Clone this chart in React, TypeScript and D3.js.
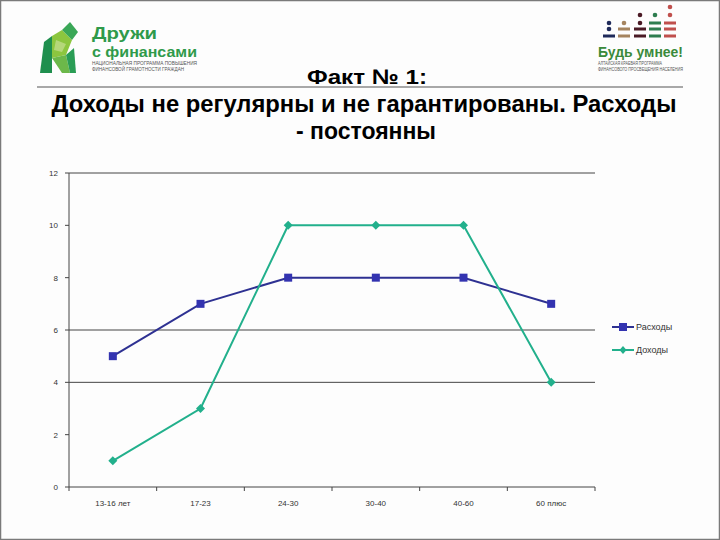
import React from "react";
import * as d3 from "d3";

const categories = ["13-16 лет", "17-23", "24-30", "30-40", "40-60", "60 плюс"];
const expenses = [5, 7, 8, 8, 8, 7];
const incomes = [1, 3, 10, 10, 10, 4];
const yTicks = [0, 2, 4, 6, 8, 10, 12];
const gridValues = [12, 6, 4];
const seriesNames = ["Расходы", "Доходы"];

const W = 720, H = 540;
const plot = { left: 69, right: 595, top: 173, bottom: 487 };
const C_EXP = "#2e3192";
const C_EXP_M = "#3333b0";
const C_INC = "#22b08c";

export default function App() {
  const x = d3.scaleBand<string>().domain(categories).range([plot.left, plot.right]);
  const y = d3.scaleLinear().domain([0, 12]).range([plot.bottom, plot.top]);
  const cx = (c: string) => (x(c) as number) + x.bandwidth() / 2;
  const line = d3.line<[number, number]>().x(d => d[0]).y(d => d[1]);
  const expPts = categories.map((c, i) => [cx(c), y(expenses[i])] as [number, number]);
  const incPts = categories.map((c, i) => [cx(c), y(incomes[i])] as [number, number]);
  const font = "'Liberation Sans', Arial, sans-serif";
  const tickEdges = [...categories.map(c => x(c) as number), plot.right];

  const dotCols = [
    { x: 609, color: "#1f2a5a", dots: [23, 29], dashes: [36] },
    { x: 624, color: "#a5845f", dots: [23], dashes: [29, 36] },
    { x: 640, color: "#4a1a25", dots: [15, 23], dashes: [29, 36] },
    { x: 655, color: "#2e7d4f", dots: [15], dashes: [23, 29, 36] },
    { x: 670, color: "#c0504d", dots: [7, 15], dashes: [23, 29, 36] },
  ];

  return (
    <svg width={W} height={H} style={{ position: "absolute", left: 0, top: 0, background: "#fff" }}>
      <rect x={0.5} y={0.5} width={W - 1} height={H - 1} fill="#fdfdfd" stroke="#7a7a7a" strokeWidth={1.5} />
      {/* left logo */}
      <g>
        <polygon points="44,42 52,36 52,73 40,73" fill="#1f8f4e" />
        <polygon points="52,36 62,30 72,40 66,55 52,58" fill="#8cc63f" />
        <polygon points="62,30 70,22 78,32 72,40" fill="#3aa757" />
        <polygon points="52,58 66,55 70,73 62,73" fill="#6cb84a" />
        <polygon points="66,55 74,48 76,73 70,73" fill="#2a9d55" />
        <polygon points="56,40 66,44 62,52 54,50" fill="#b5d77a" />
        <text x={92} y={39} fontFamily={font} fontWeight="bold" fontSize={16} fill="#2f9a4a" textLength={65} lengthAdjust="spacingAndGlyphs">Дружи</text>
        <text x={92} y={57} fontFamily={font} fontWeight="bold" fontSize={15} fill="#2f9a4a" textLength={105} lengthAdjust="spacingAndGlyphs">с финансами</text>
        <text x={92} y={65} fontFamily={font} fontSize={4.5} fill="#555" textLength={105} lengthAdjust="spacingAndGlyphs">НАЦИОНАЛЬНАЯ ПРОГРАММА ПОВЫШЕНИЯ</text>
        <text x={92} y={71} fontFamily={font} fontSize={4.5} fill="#555" textLength={92} lengthAdjust="spacingAndGlyphs">ФИНАНСОВОЙ ГРАМОТНОСТИ ГРАЖДАН</text>
      </g>
      {/* right logo */}
      <g>
        {dotCols.map((col, i) => (
          <g key={i}>
            {col.dots.map((dy, j) => <circle key={"d" + j} cx={col.x} cy={dy} r={2.3} fill={col.color} />)}
            {col.dashes.map((dy, j) => <rect key={"r" + j} x={col.x - 6} y={dy - 1.5} width={12} height={3} fill={col.color} />)}
          </g>
        ))}
        <text x={598} y={57} fontFamily={font} fontWeight="bold" fontSize={15} fill="#3a8a3a" textLength={85} lengthAdjust="spacingAndGlyphs">Будь умнее!</text>
        <text x={598} y={65} fontFamily={font} fontSize={4.5} fill="#555" textLength={64} lengthAdjust="spacingAndGlyphs">АЛТАЙСКАЯ КРАЕВАЯ ПРОГРАММА</text>
        <text x={598} y={71} fontFamily={font} fontSize={4.5} fill="#555" textLength={85} lengthAdjust="spacingAndGlyphs">ФИНАНСОВОГО ПРОСВЕЩЕНИЯ НАСЕЛЕНИЯ</text>
      </g>
      <line x1={37} x2={683} y1={87} y2={87} stroke="#a8a8a8" strokeWidth={2} />
      {/* title */}
      <text x={367} y={84} textAnchor="middle" fontFamily={font} fontWeight="bold" fontSize={21} fill="#000" textLength={120} lengthAdjust="spacingAndGlyphs">Факт № 1:</text>
      <text x={364} y={112} textAnchor="middle" fontFamily={font} fontWeight="bold" fontSize={23} fill="#000" textLength={625} lengthAdjust="spacingAndGlyphs">Доходы не регулярны и не гарантированы. Расходы</text>
      <text x={366} y={139} textAnchor="middle" fontFamily={font} fontWeight="bold" fontSize={23} fill="#000" textLength={140} lengthAdjust="spacingAndGlyphs">- постоянны</text>
      {/* grid */}
      {gridValues.map(v => (
        <line key={v} x1={plot.left} x2={plot.right} y1={y(v)} y2={y(v)} stroke="#444" strokeWidth={1} />
      ))}
      {/* axes */}
      <line x1={plot.left} x2={plot.left} y1={plot.top} y2={plot.bottom} stroke="#444" />
      <line x1={plot.left} x2={plot.right} y1={plot.bottom} y2={plot.bottom} stroke="#444" />
      {yTicks.map(v => (
        <g key={v}>
          <line x1={plot.left - 4} x2={plot.left} y1={y(v)} y2={y(v)} stroke="#444" />
          <text x={plot.left - 11} y={y(v) + 3} textAnchor="end" fontFamily={font} fontSize={8} fill="#333">{v}</text>
        </g>
      ))}
      {tickEdges.map((t, i) => (
        <line key={i} x1={t} x2={t} y1={plot.bottom} y2={plot.bottom + 4} stroke="#444" />
      ))}
      {categories.map(c => (
        <text key={c} x={cx(c)} y={506} textAnchor="middle" fontFamily={font} fontSize={8} fill="#333">{c}</text>
      ))}
      {/* series */}
      <path d={line(expPts) as string} fill="none" stroke={C_EXP} strokeWidth={2} />
      <path d={line(incPts) as string} fill="none" stroke={C_INC} strokeWidth={2} />
      {expPts.map((p, i) => <rect key={i} x={p[0] - 4} y={p[1] - 4} width={8} height={8} fill={C_EXP_M} />)}
      {incPts.map((p, i) => (
        <polygon key={i} points={`${p[0]},${p[1] - 4.5} ${p[0] + 4.5},${p[1]} ${p[0]},${p[1] + 4.5} ${p[0] - 4.5},${p[1]}`} fill={C_INC} />
      ))}
      {/* legend */}
      <line x1={612} x2={634} y1={327} y2={327} stroke={C_EXP} strokeWidth={2} />
      <rect x={619} y={323} width={8} height={8} fill={C_EXP_M} />
      <text x={636} y={330} fontFamily={font} fontSize={9} fill="#333">{seriesNames[0]}</text>
      <line x1={612} x2={634} y1={350} y2={350} stroke={C_INC} strokeWidth={2} />
      <polygon points="623,346 626.5,350 623,354 619.5,350" fill={C_INC} />
      <text x={636} y={353} fontFamily={font} fontSize={9} fill="#333">{seriesNames[1]}</text>
    </svg>
  );
}
